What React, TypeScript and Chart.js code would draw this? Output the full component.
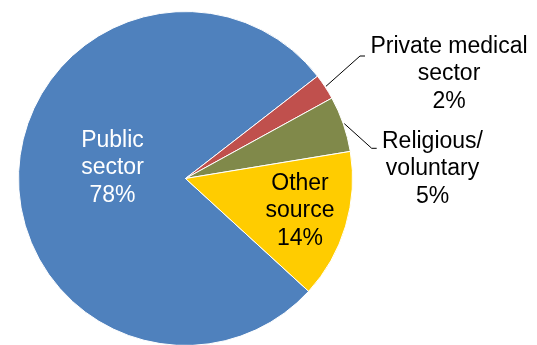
import React, { useEffect, useRef } from "react";
import { Chart, registerables } from "chart.js";

Chart.register(...registerables);

const categories = ["Public sector", "Private medical sector", "Religious/ voluntary", "Other source"];
const shares = [77.7, 2.5, 5.4, 14.4];
const labelLines = [
  ["Public", "sector", "78%"],
  ["Private medical", "sector", "2%"],
  ["Religious/", "voluntary", "5%"],
  ["Other", "source", "14%"],
];
const sliceColors = ["#4F81BD", "#C0504D", "#80894A", "#FFCC00"];
const labelColors = ["#FFFFFF", "#000000", "#000000", "#000000"];

// label anchor offsets (middle line baseline) from the pie centre, px
const labelOffsets = [
  [-73, -4.5],
  [263.5, -98.5],
  [247, -3.5],
  [114.5, 38.5],
];
// leader lines: [elbow dx, elbow dy, end dx] relative to centre, or null
const leaders: (number[] | null)[] = [
  null,
  [174.5, -122.5, 179.5],
  [186.2, -30.2, 191.2],
  null,
];

const labelPlugin = {
  id: "sliceLabels",
  afterDatasetsDraw(chart: any) {
    const ctx = chart.ctx;
    const meta = chart.getDatasetMeta(0);
    ctx.save();
    meta.data.forEach((arc: any, i: number) => {
      const { x, y, startAngle, endAngle, outerRadius } = arc.getProps(
        ["x", "y", "startAngle", "endAngle", "outerRadius"],
        true
      );
      const lead = leaders[i];
      if (lead) {
        const mid = (startAngle + endAngle) / 2;
        const sx = x + Math.cos(mid) * (outerRadius + 1);
        const sy = y + Math.sin(mid) * (outerRadius + 1);
        ctx.beginPath();
        ctx.strokeStyle = "#000000";
        ctx.lineWidth = 1;
        ctx.moveTo(sx, sy);
        ctx.lineTo(x + lead[0], y + lead[1]);
        ctx.lineTo(x + lead[2], y + lead[1]);
        ctx.stroke();
      }
      const [ox, oy] = labelOffsets[i];
      ctx.font = '23px "Liberation Sans", Arial, sans-serif';
      ctx.fillStyle = labelColors[i];
      ctx.textAlign = "center";
      ctx.textBaseline = "alphabetic";
      const lines = labelLines[i];
      const lh = 27.5;
      lines.forEach((t, k) => {
        ctx.fillText(t, x + ox, y + oy + (k - 1) * lh);
      });
    });
    ctx.restore();
  },
};

export default function App() {
  const ref = useRef<HTMLCanvasElement | null>(null);
  useEffect(() => {
    if (!ref.current) return;
    const chart = new Chart(ref.current, {
      type: "pie",
      data: {
        labels: categories,
        datasets: [
          {
            data: shares,
            backgroundColor: sliceColors,
            borderColor: "#FFFFFF",
            borderWidth: 1,
            radius: 167,
          } as any,
        ],
      },
      options: {
        animation: false,
        responsive: false,
        rotation: 132.5,
        layout: { padding: { left: 0, right: 166, top: 0, bottom: 0 } },
        plugins: {
          legend: { display: false },
          tooltip: { enabled: false },
        },
      },
      plugins: [labelPlugin],
    });
    return () => chart.destroy();
  }, []);
  return (
    <div
      style={{
        position: "absolute",
        left: 0,
        top: 0,
        width: 537,
        height: 345,
        overflow: "hidden",
        background: "#FFFFFF",
      }}
    >
      <canvas ref={ref} width={537} height={357} style={{ display: "block" }} />
    </div>
  );
}
